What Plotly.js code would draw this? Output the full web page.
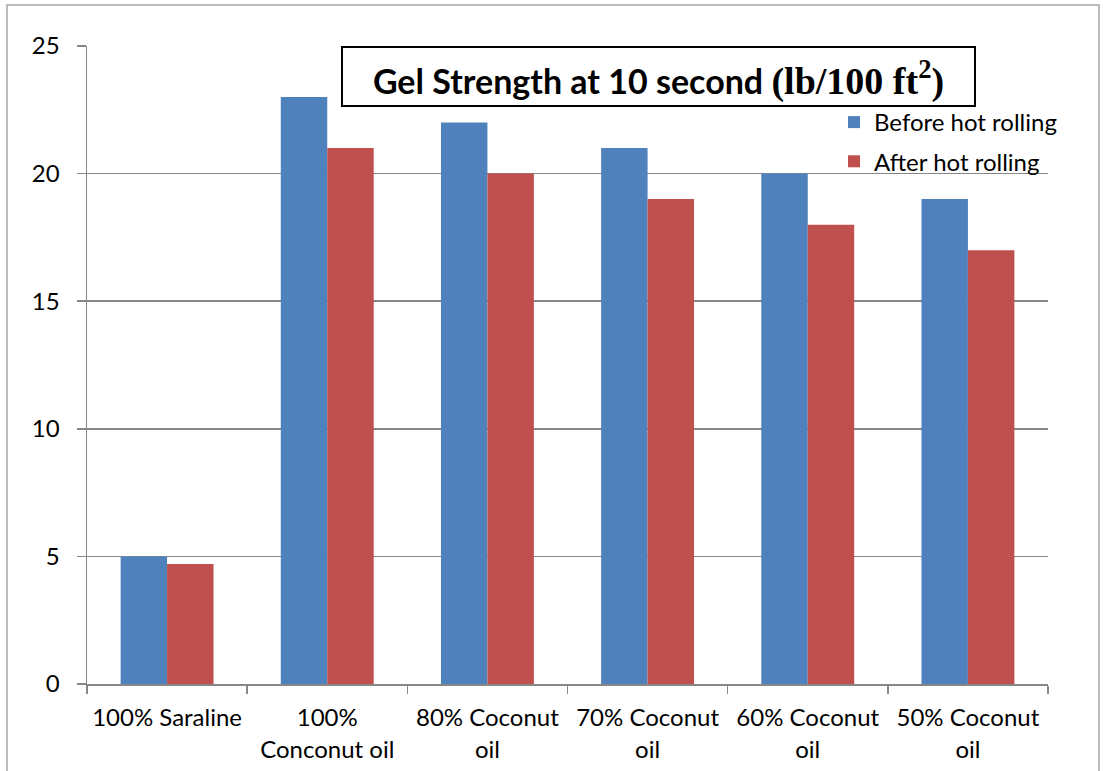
<!DOCTYPE html>
<html>
<head>
<meta charset="utf-8">
<script src="https://cdn.plot.ly/plotly-3.0.1.min.js"></script>
<style>
  html, body { margin: 0; padding: 0; background: #ffffff; }
  #chart { width: 1103px; height: 771px; }
</style>
</head>
<body>
<div id="chart"></div>
<script>
// Drilling-fluid samples (base oil blends)
const categories = [
  "100% Saraline",
  "100%<br>Conconut oil",
  "80% Coconut<br>oil",
  "70% Coconut<br>oil",
  "60% Coconut<br>oil",
  "50% Coconut<br>oil"
];

// 10-second gel strength, lb/100 ft²
const beforeHotRolling = [5, 23, 22, 21, 20, 19];
const afterHotRolling = [4.7, 21, 20, 19, 18, 17];

const seriesNames = ["Before hot rolling", "After hot rolling"];
const yTicks = [0, 5, 10, 15, 20, 25];

const FONT = "Lato, 'Open Sans', sans-serif";
const GRID = "#868686";

const traces = [
  {
    type: "bar",
    name: seriesNames[0],
    x: categories,
    y: beforeHotRolling,
    marker: { color: "#4F81BD" },
    legendgroup: "a",
    hoverinfo: "x+y+name"
  },
  {
    type: "bar",
    name: seriesNames[1],
    x: categories,
    y: afterHotRolling,
    marker: { color: "#C0504D" },
    legendgroup: "b",
    hoverinfo: "x+y+name"
  }
];

const layout = {
  width: 1103,
  height: 771,
  margin: { l: 87, r: 55, t: 46, b: 87 },
  paper_bgcolor: "#ffffff",
  plot_bgcolor: "#ffffff",
  font: { family: FONT, size: 24, color: "#000000" },
  barmode: "group",
  bargap: 0.42,
  bargroupgap: 0,
  showlegend: true,
  legend: {
    x: (834 - 87) / 961,
    xanchor: "left",
    y: (684 - 100) / 638,
    yanchor: "top",
    bgcolor: "rgba(0,0,0,0)",
    borderwidth: 0,
    font: { family: FONT, size: 24, color: "#000000" },
    traceorder: "grouped",
    tracegroupgap: 5
  },
  xaxis: {
    type: "category",
    tickson: "boundaries",
    ticks: "outside",
    ticklen: 8,
    tickcolor: GRID,
    tickwidth: 1.5,
    ticklabelstandoff: 12,
    showline: true,
    linecolor: GRID,
    linewidth: 1.5,
    showgrid: false,
    tickfont: { family: FONT, size: 24, color: "#000000" },
    fixedrange: true
  },
  yaxis: {
    range: [0, 25],
    tickvals: yTicks,
    ticktext: yTicks.map(String),
    ticks: "outside",
    ticklen: 9,
    tickcolor: GRID,
    tickwidth: 1.5,
    ticklabelstandoff: 12,
    showline: true,
    linecolor: GRID,
    linewidth: 1.5,
    showgrid: true,
    gridcolor: GRID,
    gridwidth: 1.5,
    zeroline: false,
    tickfont: { family: FONT, size: 24, color: "#000000" },
    fixedrange: true
  },
  annotations: [
    {
      xref: "paper",
      yref: "paper",
      x: (658.5 - 87) / 961,
      y: 1,
      xanchor: "center",
      yanchor: "top",
      showarrow: false,
      width: 627,
      height: 53,
      borderpad: 2,
      bordercolor: "#000000",
      borderwidth: 2,
      bgcolor: "#ffffff",
      valign: "bottom",
      align: "center",
      font: { family: FONT, size: 34, color: "#000000" },
      text: "<b>Gel Strength at 10 second </b><span style=\"font-family:'Liberation Serif', serif; font-size:38px\"><b>(lb/100 ft<sup>2</sup>)</b></span>"
    }
  ],
  shapes: [
    {
      type: "rect",
      xref: "paper",
      yref: "paper",
      x0: (7 - 87) / 961,
      x1: (1099 - 87) / 961,
      y0: (684 - 790) / 638,
      y1: (684 - 5) / 638,
      line: { color: "#a6a6a6", width: 1.5 },
      fillcolor: "rgba(0,0,0,0)",
      layer: "below"
    }
  ]
};

Plotly.newPlot("chart", traces, layout, { displayModeBar: false, staticPlot: true });
</script>
</body>
</html>
